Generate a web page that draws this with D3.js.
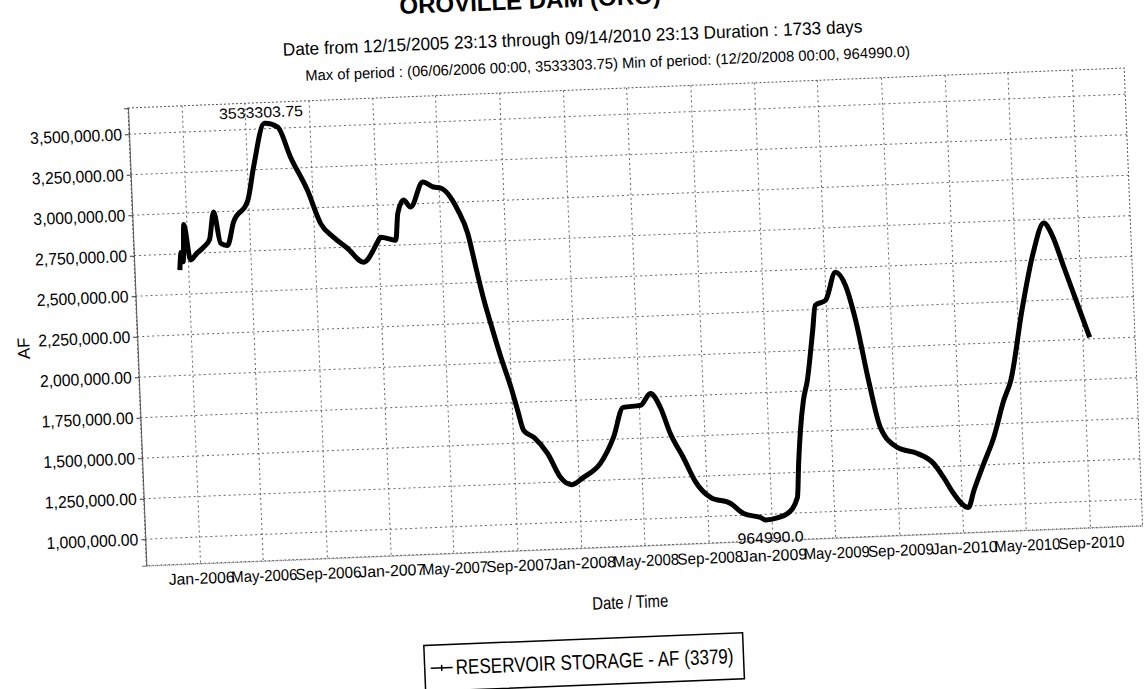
<!DOCTYPE html>
<html>
<head>
<meta charset="utf-8">
<script src="https://cdn.jsdelivr.net/npm/d3@7"></script>
<style>
  body { margin: 0; background: #fff; }
  text { font-family: "Liberation Sans Narrow", "Arial Narrow", "Liberation Sans", Arial, sans-serif; fill: #000; }
</style>
</head>
<body>
<div id="graph"></div>
<script>
/* data */
const dates = [
  "2005-12-15", "2005-12-19", "2005-12-22", "2005-12-26", "2006-01-05", "2006-01-18",
  "2006-01-31", "2006-02-12", "2006-02-22", "2006-03-05", "2006-03-18", "2006-03-31",
  "2006-04-29", "2006-05-13", "2006-06-06", "2006-07-01", "2006-07-23", "2006-08-22",
  "2006-09-14", "2006-10-07", "2006-11-02", "2006-12-02", "2006-12-30", "2007-01-05",
  "2007-02-03", "2007-02-09", "2007-02-21", "2007-03-06", "2007-03-31", "2007-04-20",
  "2007-05-04", "2007-06-04", "2007-06-21", "2007-07-04", "2007-07-17", "2007-07-28",
  "2007-08-14", "2007-08-31", "2007-09-11", "2007-09-21", "2007-10-10", "2007-11-04",
  "2007-11-27", "2007-12-18", "2008-01-09", "2008-02-12", "2008-03-10", "2008-03-31",
  "2008-05-03", "2008-05-23", "2008-06-10", "2008-06-27", "2008-07-20", "2008-08-10",
  "2008-09-07", "2008-10-15", "2008-11-08", "2008-12-10", "2008-12-20", "2009-01-11",
  "2009-01-31", "2009-02-20", "2009-02-25", "2009-03-03", "2009-03-11", "2009-03-20",
  "2009-04-03", "2009-04-10", "2009-04-30", "2009-05-21", "2009-06-08", "2009-06-25",
  "2009-07-15", "2009-08-03", "2009-09-03", "2009-10-11", "2009-11-10", "2009-11-28",
  "2009-12-16", "2010-01-12", "2010-01-24", "2010-02-14", "2010-03-07", "2010-03-29",
  "2010-04-13", "2010-05-10", "2010-06-05", "2010-06-27", "2010-07-12", "2010-08-01",
  "2010-08-20", "2010-09-14"
];
const storage = [
  2650000, 2760000, 2700000, 2930000, 2710000, 2750000,
  2785000, 2830000, 3000000, 2805000, 2790000, 2930000,
  3060000, 3270000, 3533303.75, 3507000, 3320000, 3110000,
  2900000, 2815000, 2743000, 2653000, 2773000, 2803000,
  2781000, 2947000, 3026000, 2981000, 3132000, 3099000,
  3091000, 2951000, 2806000, 2594000, 2389000, 2245000,
  2033000, 1845000, 1701000, 1576000, 1531000, 1428000,
  1277000, 1230000, 1271000, 1354000, 1511000, 1694000,
  1702000, 1773000, 1684000, 1521000, 1370000, 1220000,
  1117000, 1075000, 1010000, 981000, 964990, 975000,
  999000, 1095000, 1305000, 1508000, 1693000, 1815000,
  2120000, 2276000, 2304000, 2475000, 2392000, 2173000,
  1800000, 1507000, 1379000, 1337000, 1271000, 1183000,
  1081000, 991000, 1095000, 1259000, 1417000, 1643000,
  1765000, 2200000, 2550000, 2726000, 2650000, 2450000,
  2260000, 2010000
];
const yTicks = [1000000, 1250000, 1500000, 1750000, 2000000, 2250000,
  2500000, 2750000, 3000000, 3250000, 3500000];
const xTicks = ["2006-01-01", "2006-05-01", "2006-09-01", "2007-01-01", "2007-05-01",
  "2007-09-01", "2008-01-01", "2008-05-01", "2008-09-01", "2009-01-01", "2009-05-01",
  "2009-09-01", "2010-01-01", "2010-05-01", "2010-09-01"];
const titleText = "OROVILLE DAM (ORO)";
const subTitle = "Date from 12/15/2005 23:13 through 09/14/2010 23:13 Duration : 1733 days";
const extremesText = "Max of period : (06/06/2006 00:00, 3533303.75)  Min of period: (12/20/2008 00:00,  964990.0)";
const maxLabel = "3533303.75";
const minLabel = "964990.0";
const legendText = "RESERVOIR STORAGE - AF (3379)";

//---------------------------------
/* layout */
const w = 1145;
const h = 689;
const plotLeft = 128;
const plotTop = 108;
const plotW = 997;
const plotH = 458;
const tilt = -2.3; // the scan is a little crooked

const parseTime = d3.timeParse("%Y-%m-%d");
const points = dates.map((d, i) => ({ date: parseTime(d), value: storage[i] }));

//---------------------------------
/* scales, with 5% margin on both sides like the original */
const tMin = d3.min(points, d => d.date);
const tMax = d3.max(points, d => d.date);
const tPad = (tMax - tMin) * 0.05;
const xScale = d3.scaleTime()
  .domain([new Date(+tMin - tPad), new Date(+tMax + tPad)])
  .range([plotLeft, plotLeft + plotW]);

const vMin = d3.min(storage);
const vMax = d3.max(storage);
const vPad = (vMax - vMin) * 0.05;
const yScale = d3.scaleLinear()
  .domain([vMin - vPad, vMax + vPad])
  .range([plotTop + plotH, plotTop]);

const svg = d3.select("#graph")
  .append("svg")
  .attr("width", w)
  .attr("height", h);

const root = svg.append("g")
  .attr("transform", `rotate(${tilt} ${plotLeft} ${plotTop})`);

//---------------------------------
/* grid */
root.append("g")
  .selectAll("line")
  .data(yTicks).enter()
  .append("line")
  .attr("x1", plotLeft).attr("x2", plotLeft + plotW)
  .attr("y1", d => yScale(d)).attr("y2", d => yScale(d))
  .style("stroke", "#666").style("stroke-width", 1).style("stroke-dasharray", "2,3");

root.append("g")
  .selectAll("line")
  .data(xTicks).enter()
  .append("line")
  .attr("x1", d => xScale(parseTime(d))).attr("x2", d => xScale(parseTime(d)))
  .attr("y1", plotTop).attr("y2", plotTop + plotH)
  .style("stroke", "#666").style("stroke-width", 1).style("stroke-dasharray", "2,3");

root.append("rect")
  .attr("x", plotLeft).attr("y", plotTop)
  .attr("width", plotW).attr("height", plotH)
  .style("fill", "none").style("stroke", "#555").style("stroke-dasharray", "2,2");

//---------------------------------
/* axes */
const yAxis = d3.axisLeft(yScale)
  .tickValues(yTicks)
  .tickFormat(d3.format(",.2f"))
  .tickSize(4)
  .tickPadding(3);
const gy = root.append("g")
  .attr("transform", `translate(${plotLeft}, 0)`)
  .call(yAxis);
gy.select(".domain").style("stroke", "#555");
gy.selectAll(".tick line").style("stroke", "#333");
gy.selectAll("text")
  .style("font-size", "17px")
  .attr("textLength", 92)
  .attr("lengthAdjust", "spacingAndGlyphs");

const xAxis = d3.axisBottom(xScale)
  .tickValues(xTicks.map(parseTime))
  .tickFormat(d3.timeFormat("%b-%Y"))
  .tickSize(0)
  .tickPadding(9);
const gx = root.append("g")
  .attr("transform", `translate(0, ${plotTop + plotH})`)
  .call(xAxis);
gx.select(".domain").style("stroke", "#777").style("stroke-dasharray", "1,1");
gx.selectAll("text")
  .style("font-size", "16px")
  .attr("textLength", 66)
  .attr("lengthAdjust", "spacingAndGlyphs");

root.append("text")
  .attr("transform", "translate(14, 344) rotate(-90)")
  .attr("text-anchor", "middle")
  .attr("dy", "0.35em")
  .style("font-size", "17px")
  .text("AF");

root.append("text")
  .attr("x", 610).attr("y", 628)
  .attr("text-anchor", "middle")
  .style("font-size", "18px")
  .attr("textLength", 76)
  .attr("lengthAdjust", "spacingAndGlyphs")
  .text("Date / Time");

//---------------------------------
/* the storage line */
const line = d3.line()
  .x(d => xScale(d.date))
  .y(d => yScale(d.value))
  .curve(d3.curveMonotoneX);

root.append("path")
  .datum(points)
  .attr("d", line)
  .style("fill", "none")
  .style("stroke", "#000")
  .style("stroke-width", 5)
  .style("stroke-linejoin", "round");

/* max / min annotations */
const maxPt = points.find(d => d.value === vMax);
const minPt = points.find(d => d.value === vMin);
root.append("text")
  .attr("x", xScale(maxPt.date) - 3).attr("y", yScale(maxPt.value) - 6)
  .attr("text-anchor", "middle")
  .style("font-size", "15px")
  .attr("textLength", 84)
  .attr("lengthAdjust", "spacingAndGlyphs")
  .text(maxLabel);
root.append("text")
  .attr("x", xScale(minPt.date) + 4).attr("y", yScale(minPt.value) + 23)
  .attr("text-anchor", "middle")
  .style("font-size", "15px")
  .attr("textLength", 66)
  .attr("lengthAdjust", "spacingAndGlyphs")
  .text(minLabel);

//---------------------------------
/* titles */
root.append("text")
  .attr("x", 534).attr("y", 25)
  .attr("text-anchor", "middle")
  .style("font-size", "24px")
  .style("font-weight", "bold")
  .text(titleText);
root.append("text")
  .attr("x", 575).attr("y", 62)
  .attr("text-anchor", "middle")
  .style("font-size", "18px")
  .attr("textLength", 580)
  .attr("lengthAdjust", "spacingAndGlyphs")
  .text(subTitle);
root.append("text")
  .attr("x", 609).attr("y", 88)
  .attr("text-anchor", "middle")
  .style("font-size", "15px")
  .attr("textLength", 605)
  .attr("lengthAdjust", "spacingAndGlyphs")
  .text(extremesText);

//---------------------------------
/* legend */
const legend = root.append("g").attr("transform", "translate(402, 657)");
legend.append("rect")
  .attr("width", 319).attr("height", 46)
  .style("fill", "#fff").style("stroke", "#000").style("stroke-width", 1.5);
legend.append("line")
  .attr("x1", 6).attr("x2", 28).attr("y1", 23).attr("y2", 23)
  .style("stroke", "#000").style("stroke-width", 1.5);
legend.append("path")
  .attr("d", "M17,20V26")
  .style("stroke", "#000").style("stroke-width", 1.5);
legend.append("text")
  .attr("x", 31).attr("y", 30)
  .style("font-size", "21px")
  .attr("textLength", 278)
  .attr("lengthAdjust", "spacingAndGlyphs")
  .text(legendText);
</script>
</body>
</html>
